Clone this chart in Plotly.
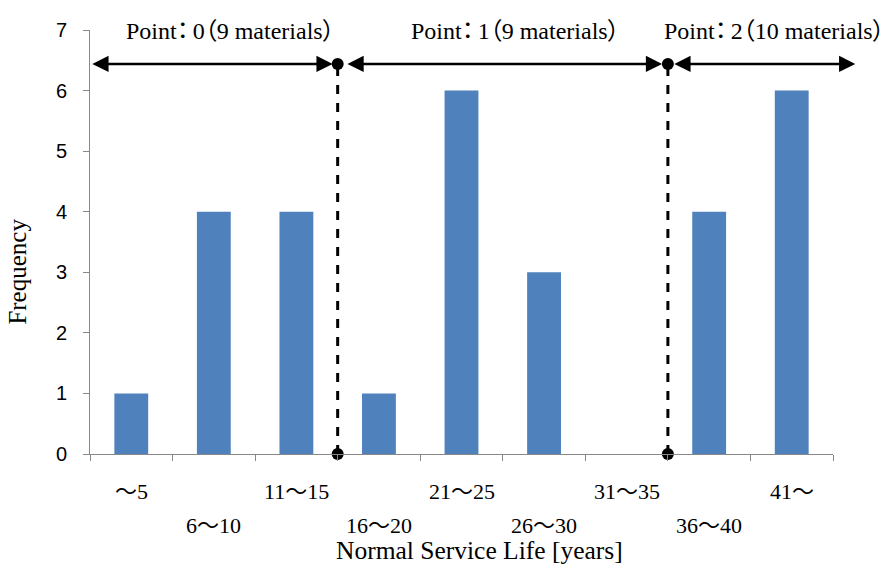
import plotly.graph_objects as go

categories = ["～5", "6～10", "11～15", "16～20", "21～25", "26～30", "31～35", "36～40", "41～"]
frequency = [1, 4, 4, 1, 6, 3, 0, 4, 6]
group_labels = ["Point：0（9 materials）", "Point：1（9 materials）", "Point：2（10 materials）"]
y_ticks = [0, 1, 2, 3, 4, 5, 6, 7]

BAR = "#4F81BD"
SERIF = "Liberation Serif, Times New Roman, serif"
SANS = "Liberation Sans, Arial, sans-serif"
CJK = "Noto Sans CJK JP"


def cjk(s, palt=False):
    out = ""
    for ch in s:
        if ch in "～：（）":
            st = "font-family:%s" % CJK
            if palt and ch != "～":
                st += ";font-feature-settings:'palt'"
            if palt and ch == "：":
                st += ";letter-spacing:4px"
            out += '<span style="%s">%s</span>' % (st, ch)
        else:
            out += ch
    return out


xi = list(range(len(categories)))
fig = go.Figure()
fig.add_trace(go.Bar(x=xi, y=frequency, marker=dict(color=BAR, line=dict(width=0)),
                     width=0.41, showlegend=False, hoverinfo="x+y"))

dividers = [2.5, 6.5]
arrow_y = 6.44
for d in dividers:
    fig.add_trace(go.Scatter(x=[d, d], y=[0, arrow_y], mode="lines+markers",
                             line=dict(color="black", width=3, dash="dash"),
                             marker=dict(color="black", size=12),
                             showlegend=False, cliponaxis=False, hoverinfo="skip"))

arrows = [(-0.49, 2.44), (2.6, 6.43), (6.56, 8.77)]
for a, b in arrows:
    fig.add_annotation(x=b, y=arrow_y, ax=a, ay=arrow_y, xref="x", yref="y",
                       axref="x", ayref="y", text="", showarrow=True,
                       arrowside="end+start", arrowhead=2, startarrowhead=2,
                       arrowsize=1.3, startarrowsize=1.3, arrowwidth=2.5,
                       arrowcolor="black", standoff=0, startstandoff=0)

label_x = [1.2, 4.66, 7.79]
for lx, t in zip(label_x, group_labels):
    fig.add_annotation(x=lx, y=1.003, xref="x", yref="paper", text=cjk(t, palt=True),
                       showarrow=False,
                       font=dict(family=SERIF, size=24, color="black"),
                       xanchor="center", yanchor="middle")

for i, c in enumerate(categories):
    fig.add_annotation(x=i, y=-0.0825 if i % 2 == 0 else -0.163, xref="x", yref="paper",
                       text=cjk(c), showarrow=False,
                       font=dict(family=SERIF, size=22, color="black"),
                       xanchor="center", yanchor="middle")

fig.add_annotation(x=0.524, y=-0.228, xref="paper", yref="paper",
                   text="Normal Service Life [years]", showarrow=False,
                   font=dict(family=SERIF, size=25.5, color="black"),
                   xanchor="center", yanchor="middle")
fig.add_annotation(x=-0.097, y=0.43, xref="paper", yref="paper", text="Frequency",
                   textangle=-90, showarrow=False,
                   font=dict(family=SERIF, size=25, color="black"),
                   xanchor="center", yanchor="middle")

fig.update_layout(
    width=885, height=564,
    margin=dict(l=90, r=52, t=30, b=110),
    paper_bgcolor="white", plot_bgcolor="white",
    xaxis=dict(range=[-0.5, 8.5], tickmode="array", tickvals=[v - 0.5 for v in xi] + [8.5],
               showticklabels=False, ticks="outside", ticklen=6, tickcolor="#888",
               showline=True, linecolor="#888", linewidth=1, showgrid=False, zeroline=False,
               fixedrange=True),
    yaxis=dict(range=[0, 7], tickvals=y_ticks, ticks="outside", ticklen=6, tickcolor="#888",
               showline=True, linecolor="#888", linewidth=1, showgrid=False, zeroline=False,
               tickfont=dict(family=SANS, size=20, color="black"), ticklabelstandoff=12,
               fixedrange=True),
    bargap=0.59,
)

fig.write_html("out.html", config={"displayModeBar": False},
               post_script="document.body.style.margin='0';")
